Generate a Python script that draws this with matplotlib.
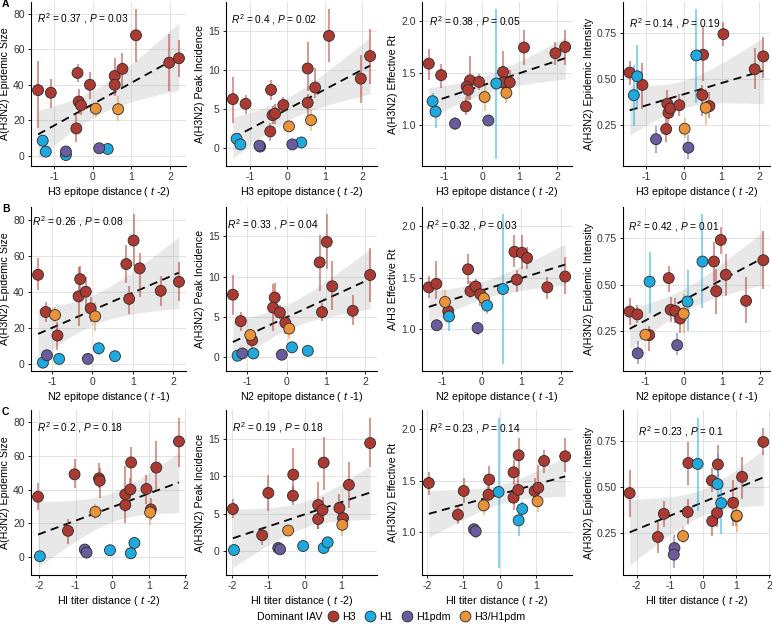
import numpy as np
import matplotlib
matplotlib.use("Agg")
import matplotlib.pyplot as plt
from matplotlib.ticker import MultipleLocator, FormatStrFormatter
from matplotlib.lines import Line2D

plt.rcParams['font.family'] = ['Liberation Sans', 'DejaVu Sans']
plt.rcParams['mathtext.fontset'] = 'custom'
plt.rcParams['mathtext.rm'] = 'Liberation Sans'
plt.rcParams['mathtext.it'] = 'Liberation Sans:italic'
plt.rcParams['axes.unicode_minus'] = False

# ordem dos pontos em cada painel: 13 H3, 2 H3/H1pdm, H1, 2 H1pdm
grupos4 = ['H3'] * 13 + ['H3/H1pdm'] * 2 + ['H1'] * 4 + ['H1pdm'] * 2
grupos3 = ['H3'] * 13 + ['H3/H1pdm'] * 2 + ['H1'] * 3 + ['H1pdm'] * 2

# ---- linha A: H3 epitope distance (t-2)
a1_x = [-1.41, -1.08, -0.39, -0.36, -0.30, -0.42, -0.07, 0.57, 0.57, 0.77, 1.12, 1.98, 2.23, 0.08, 0.66, -1.29, -1.21, -0.69, 0.39, -0.69, 0.17]
a1_y = [37, 35.5, 46.7, 30.5, 28.4, 15.3, 40, 45, 40, 49, 68, 52.5, 55, 26.5, 26.2, 8.4, 2.2, 0.3, 3.7, 2.3, 4.1]
a1_lo = [15.5, 27, 41.7, 23.4, 23.2, 7.9, 32, 35, 33.6, 39, 53, 36.4, 44.5, 22, 19.6, 5.6, 1, 0, 1.5, 1, 2]
a1_hi = [53.6, 43.5, 52, 37.8, 33.6, 23, 47.5, 55, 45, 58, 82.6, 68.8, 65.4, 30.5, 33.6, 10.8, 3.5, 1, 6, 3.8, 6]

a2_x = [-1.46, -1.12, -0.44, -0.40, -0.33, -0.46, -0.11, 0.54, 0.54, 0.74, 1.11, 1.96, 2.21, 0.04, 0.63, -1.36, -1.26, 0.37, -0.73, -0.75, 0.13]
a2_y = [6.26, 5.66, 7.45, 4.2, 4.4, 2.1, 5.5, 10.2, 5.8, 7.75, 14.4, 8.9, 11.8, 2.75, 3.55, 1.15, 0.43, 0.68, 0.15, 0.26, 0.43]
a2_lo = [3.2, 4.4, 6.2, 3.1, 3.0, 0.9, 4.6, 7.3, 3.9, 6.4, 11.1, 5.8, 8.2, 2.4, 2.1, 0.9, 0.3, 0.5, 0.1, 0.15, 0.3]
a2_hi = [9.15, 6.8, 8.7, 5.4, 5.6, 3.2, 6.5, 13.6, 6.9, 10.2, 17.8, 11.9, 15.3, 3.1, 5.0, 1.4, 0.6, 0.9, 0.2, 0.4, 0.6]

a3_x = [-1.42, -1.09, -0.32, -0.41, -0.37, -0.43, -0.08, 0.56, 0.56, 0.74, 1.12, 1.96, 2.22, 0.07, 0.65, -1.32, -1.24, 0.38, -0.72, 0.17]
a3_y = [1.59, 1.48, 1.43, 1.37, 1.34, 1.18, 1.415, 1.51, 1.41, 1.41, 1.745, 1.69, 1.75, 1.27, 1.31, 1.23, 1.13, 1.40, 1.015, 1.045]
a3_lo = [1.43, 1.36, 1.24, 1.27, 1.24, 1.10, 1.34, 1.35, 1.29, 1.31, 1.58, 1.58, 1.58, 1.14, 1.21, 1.13, 0.97, 0.68, 0.95, 1.0]
a3_hi = [1.73, 1.59, 1.66, 1.44, 1.43, 1.27, 1.49, 1.71, 1.51, 1.53, 1.91, 1.80, 1.91, 1.38, 1.37, 1.31, 1.24, 2.11, 1.08, 1.09]

a4_x = [-1.44, -1.10, -0.44, -0.41, -0.36, -0.47, -0.12, 0.51, 0.49, 0.68, 1.05, 1.88, 2.11, 0.02, 0.58, -1.33, -1.24, 0.33, -0.74, 0.12]
a4_y = [0.537, 0.47, 0.368, 0.318, 0.342, 0.23, 0.36, 0.634, 0.415, 0.355, 0.746, 0.555, 0.625, 0.232, 0.346, 0.414, 0.517, 0.63, 0.175, 0.129]
a4_lo = [0.47, 0.34, 0.30, 0.235, 0.29, 0.16, 0.30, 0.49, 0.30, 0.29, 0.68, 0.45, 0.51, 0.18, 0.25, 0.245, 0.35, 0.37, 0.10, 0.07]
a4_hi = [0.60, 0.59, 0.44, 0.38, 0.39, 0.31, 0.42, 0.79, 0.47, 0.43, 0.81, 0.67, 0.73, 0.29, 0.45, 0.58, 0.686, 0.88, 0.245, 0.20]

# ---- linha B: N2 epitope distance (t-1)
b1_x = [-1.34, -1.15, -0.86, -0.30, -0.34, -0.16, -0.04, 0.84, 1.02, 0.91, 1.17, 1.69, 2.14, -0.92, 0.07, -1.22, -0.82, 0.16, 0.56, -1.12, -0.11]
b1_y = [49.4, 28.7, 15.6, 47, 37.4, 40, 30.7, 55.4, 68.5, 36, 53, 40.5, 45.5, 27, 26.3, 0.5, 2.6, 8.5, 4.1, 4.6, 2.6]
b1_lo = [41, 23, 7.8, 37.8, 21, 32, 23.3, 44.8, 54.4, 27.6, 36.9, 31.9, 35, 23, 18.3, 0, 1, 4.8, 1.1, 1.7, 1]
b1_hi = [58.5, 34, 23, 54.4, 54, 48, 36.9, 66, 83, 43.3, 61.8, 48.9, 56.3, 31.3, 34.4, 1.5, 4, 12.2, 7.2, 7.2, 4]

b2_x = [-1.36, -1.16, -0.87, -0.30, -0.34, -0.17, -0.03, 0.84, 1.02, 0.90, 1.16, 1.68, 2.12, -0.92, 0.07, -1.24, -0.84, 0.14, 0.54, -1.12, -0.12]
b2_y = [7.76, 4.48, 2.12, 7.4, 6.16, 5.56, 4.28, 11.76, 14.3, 5.6, 8.8, 5.76, 10.2, 2.76, 3.56, 0.2, 0.48, 1.24, 0.8, 0.48, 0.32]
b2_lo = [5.3, 3.3, 1.1, 6.1, 3.3, 4.7, 2.9, 8.2, 10.9, 4.5, 5.9, 4.0, 6.9, 2.1, 2.3, 0.1, 0.3, 0.9, 0.6, 0.3, 0.2]
b2_hi = [10.2, 5.6, 2.9, 9.2, 9.1, 6.5, 5.4, 15.2, 17.7, 6.7, 11.9, 7.7, 13.6, 3.5, 4.9, 0.3, 0.7, 1.6, 1.0, 0.7, 0.45]

b3_x = [-1.33, -1.14, -0.84, -0.34, -0.28, -0.15, -0.03, 0.83, 1.02, 0.89, 1.15, 1.66, 2.11, -0.92, 0.06, -0.82, 0.14, 0.54, -1.13, -0.10]
b3_y = [1.406, 1.44, 1.176, 1.58, 1.37, 1.415, 1.34, 1.75, 1.74, 1.48, 1.69, 1.406, 1.51, 1.265, 1.30, 1.125, 1.23, 1.39, 1.04, 1.013]
b3_lo = [1.30, 1.29, 1.13, 1.44, 1.30, 1.35, 1.23, 1.60, 1.58, 1.36, 1.58, 1.29, 1.34, 1.17, 1.23, 0.98, 1.15, 0.67, 1.02, 0.95]
b3_hi = [1.52, 1.66, 1.27, 1.73, 1.47, 1.49, 1.46, 1.91, 1.91, 1.57, 1.80, 1.51, 1.70, 1.38, 1.36, 1.23, 1.30, 2.11, 1.08, 1.07]

b4_x = [-1.41, -1.21, -0.90, -0.39, -0.34, -0.22, -0.09, 0.79, 0.97, 0.85, 1.10, 1.63, 2.08, -1.00, 0.0, -0.89, 0.10, 0.49, -1.20, -0.17]
b4_y = [0.355, 0.34, 0.229, 0.535, 0.365, 0.358, 0.318, 0.624, 0.74, 0.465, 0.553, 0.413, 0.631, 0.231, 0.344, 0.516, 0.409, 0.624, 0.131, 0.175]
b4_lo = [0.285, 0.295, 0.144, 0.458, 0.30, 0.295, 0.24, 0.513, 0.667, 0.34, 0.44, 0.295, 0.476, 0.213, 0.24, 0.349, 0.25, 0.376, 0.076, 0.122]
b4_hi = [0.427, 0.39, 0.277, 0.598, 0.434, 0.43, 0.376, 0.73, 0.81, 0.585, 0.664, 0.54, 0.786, 0.258, 0.449, 0.676, 0.576, 0.877, 0.198, 0.24]

# ---- linha C: HI titer distance (t-2)
c1_x = [-2.03, -1.21, -1.03, -0.36, -0.34, 0.36, 0.36, 0.52, 0.50, 0.94, 1.06, 1.21, 1.83, -0.46, 1.04, -1.98, -0.06, 0.51, 0.61, -0.75, -0.70]
c1_y = [35.7, 15.5, 49, 46.6, 45.2, 30.8, 37.1, 56, 40, 40.3, 28.2, 53, 68.5, 26.8, 26.4, 0.4, 4.0, 2.2, 8.3, 4.4, 2.6]
c1_lo = [27.8, 7.9, 40.7, 40.7, 34.7, 20, 26.8, 40.7, 31.7, 31.7, 21.8, 39.7, 53.6, 22.8, 18.8, 0, 1.0, 0.5, 5, 2.6, 1]
c1_hi = [43.6, 22.8, 58, 55.6, 52.6, 34.7, 54, 65.5, 46.6, 48.6, 34.7, 68.5, 82.7, 31.2, 32.7, 1, 6.9, 3.5, 11.3, 6, 4]

c2_x = [-1.97, -1.17, -1.00, -0.32, -0.33, 0.36, 0.36, 0.51, 0.48, 0.94, 1.04, 1.20, 1.78, -0.46, 1.02, -1.94, -0.05, 0.51, 0.62, -0.73, -0.68]
c2_y = [5.63, 2.14, 7.77, 10.2, 7.4, 6.16, 4.29, 11.8, 5.5, 5.76, 4.42, 8.84, 14.4, 2.77, 3.53, 0.18, 0.71, 0.45, 1.2, 0.45, 0.27]
c2_lo = [4.4, 0.9, 5.3, 7.2, 6.1, 3.0, 3.0, 8.2, 4.1, 4.1, 3.4, 5.8, 11.2, 2.1, 2.1, 0.1, 0.5, 0.3, 0.9, 0.3, 0.15]
c2_hi = [6.9, 3.2, 10.2, 13.7, 8.75, 9.2, 5.2, 15.2, 7.2, 7.6, 5.8, 11.9, 17.8, 3.4, 4.5, 0.3, 0.9, 0.6, 1.5, 0.6, 0.4]

c3_x = [-1.95, -1.15, -0.99, -0.29, -0.31, 0.38, 0.38, 0.52, 0.51, 0.96, 1.06, 1.22, 1.80, -0.44, 1.04, -0.03, 0.52, 0.62, -0.71, -0.66]
c3_y = [1.477, 1.17, 1.40, 1.51, 1.364, 1.58, 1.335, 1.745, 1.41, 1.40, 1.43, 1.69, 1.735, 1.26, 1.30, 1.39, 1.116, 1.226, 1.03, 1.01]
c3_lo = [1.36, 1.08, 1.28, 1.40, 1.27, 1.46, 1.22, 1.54, 1.30, 1.28, 1.25, 1.57, 1.58, 1.17, 1.20, 0.66, 0.96, 1.14, 1.0, 0.95]
c3_hi = [1.58, 1.25, 1.53, 1.64, 1.46, 1.70, 1.43, 1.91, 1.54, 1.53, 1.65, 1.80, 1.91, 1.37, 1.38, 2.11, 1.25, 1.30, 1.06, 1.06]

c4_x = [-2.21, -1.36, -1.18, -0.44, -0.46, 0.27, 0.28, 0.45, 0.43, 0.91, 1.01, 1.18, 1.82, -0.60, 1.02, -0.16, 0.44, 0.55, -0.86, -0.88]
c4_y = [0.467, 0.23, 0.355, 0.63, 0.365, 0.535, 0.316, 0.622, 0.36, 0.415, 0.342, 0.555, 0.744, 0.235, 0.345, 0.625, 0.516, 0.413, 0.17, 0.135]
c4_lo = [0.34, 0.146, 0.282, 0.51, 0.30, 0.473, 0.237, 0.51, 0.282, 0.29, 0.29, 0.436, 0.674, 0.20, 0.255, 0.373, 0.355, 0.246, 0.101, 0.065]
c4_hi = [0.59, 0.31, 0.427, 0.745, 0.436, 0.604, 0.374, 0.73, 0.436, 0.536, 0.39, 0.664, 0.82, 0.29, 0.445, 0.876, 0.676, 0.527, 0.241, 0.18]

# R2 e P de cada painel (linha a linha)
r2_txt = [['0.37', '0.4', '0.38', '0.14'], ['0.26', '0.33', '0.32', '0.42'], ['0.2', '0.19', '0.23', '0.23']]
p_txt = [['0.03', '0.02', '0.05', '0.19'], ['0.08', '0.04', '0.03', '0.01'], ['0.18', '0.18', '0.14', '0.1']]

xlabels = [r'H3 epitope distance ( $\it{t}$ -2)', r'N2 epitope distance ( $\it{t}$ -1)', r'HI titer distance ( $\it{t}$ -2)']
ylabels = [['A(H3N2) Epidemic Size', 'A(H3N2) Peak Incidence', 'A(H3N2) Effective Rt', 'A(H3N2) Epidemic Intensity'],
           ['A(H3N2) Epidemic Size', 'A(H3N2) Peak Incidence', 'A/H3 Effective Rt', 'A(H3N2) Epidemic Intensity'],
           ['A(H3N2) Epidemic Size', 'A(H3N2) Peak Incidence', 'A(H3N2) Effective Rt', 'A(H3N2) Epidemic Intensity']]

paineis = [[(a1_x, a1_y, a1_lo, a1_hi, grupos4), (a2_x, a2_y, a2_lo, a2_hi, grupos4),
            (a3_x, a3_y, a3_lo, a3_hi, grupos3), (a4_x, a4_y, a4_lo, a4_hi, grupos3)],
           [(b1_x, b1_y, b1_lo, b1_hi, grupos4), (b2_x, b2_y, b2_lo, b2_hi, grupos4),
            (b3_x, b3_y, b3_lo, b3_hi, grupos3), (b4_x, b4_y, b4_lo, b4_hi, grupos3)],
           [(c1_x, c1_y, c1_lo, c1_hi, grupos4), (c2_x, c2_y, c2_lo, c2_hi, grupos4),
            (c3_x, c3_y, c3_lo, c3_hi, grupos3), (c4_x, c4_y, c4_lo, c4_hi, grupos3)]]

cores = {'H3': '#ab3a33', 'H1': '#1eaadf', 'H1pdm': '#6a5c9c', 'H3/H1pdm': '#e8923a'}
passo_y = [20, 5, 0.5, 0.25]
formato_y = ['%d', '%d', '%.1f', '%.2f']

# caixas dos eixos em pixels (esquerda, direita) e (topo, base)
W, H = 772, 625
colunas = [(31, 186), (226, 377), (422, 572), (623, 770)]
linhas = [(2, 166), (207, 371), (410, 575)]
pos_txt = [[(37, 19), (231, 20), (429, 22), (629, 24)],
           [(32, 222), (227, 225), (426, 226), (628, 227)],
           [(37, 428), (232, 428), (429, 429), (638, 432)]]

fig = plt.figure(figsize=(W / 100, H / 100), dpi=100)

for i in range(3):
    for j in range(4):
        x, y, lo, hi, grp = [np.array(v) for v in paineis[i][j]]
        l, r = colunas[j]
        t, b = linhas[i]
        ax = fig.add_axes([l / W, 1 - b / H, (r - l) / W, (b - t) / H])

        # regressao linear com banda de 95%
        n = len(x)
        coef = np.polyfit(x, y, 1)
        xs = np.linspace(x.min(), x.max(), 80)
        ys = np.polyval(coef, xs)
        res = y - np.polyval(coef, x)
        s = np.sqrt(np.sum(res ** 2) / (n - 2))
        se = s * np.sqrt(1 / n + (xs - x.mean()) ** 2 / np.sum((x - x.mean()) ** 2))
        ax.fill_between(xs, ys - 2.09 * se, ys + 2.09 * se, color='0.55', alpha=0.2, lw=0, zorder=1)
        ax.plot(xs, ys, color='black', lw=1.3, dashes=(4.5, 3), zorder=2)

        cor = [cores[g] for g in grp]
        ax.vlines(x, lo, hi, colors=cor, alpha=0.5, lw=1.5, zorder=3)
        ax.scatter(x, y, s=62, c=cor, edgecolors='#2b2b2b', linewidths=0.6, zorder=4)

        ax.xaxis.set_major_locator(MultipleLocator(1))
        ax.yaxis.set_major_locator(MultipleLocator(passo_y[j]))
        ax.yaxis.set_major_formatter(FormatStrFormatter(formato_y[j]))
        ax.grid(True, color='#e3e3e3', lw=0.7)
        ax.set_axisbelow(True)
        for lado in ['top', 'right']:
            ax.spines[lado].set_visible(False)
        for lado in ['left', 'bottom']:
            ax.spines[lado].set_linewidth(0.8)
        ax.tick_params(labelsize=7.5, length=2.5, width=0.6, pad=2, labelcolor='#333333')
        ax.set_xlabel(xlabels[i], fontsize=7.7, labelpad=2)
        ax.set_ylabel(ylabels[i][j], fontsize=7.7, labelpad=2)

        px, py = pos_txt[i][j]
        fig.text(px / W, 1 - py / H, r'$\it{R}^2$ = ' + r2_txt[i][j] + r' , $\it{P}$ = ' + p_txt[i][j],
                 fontsize=7.3, ha='left', va='center')

for letra, py in zip(['A', 'B', 'C'], [4, 209, 412]):
    fig.text(2 / W, 1 - py / H, letra, fontsize=7.5, fontweight='bold', ha='left', va='center')

# legenda
nomes = ['H3', 'H1', 'H1pdm', 'H3/H1pdm']
alcas = [Line2D([], [], ls='none', marker='o', markersize=7.8, markerfacecolor=cores[k],
                markeredgecolor='#2b2b2b', markeredgewidth=0.6) for k in nomes]
fig.text(257 / W, 1 - 617 / H, 'Dominant IAV', fontsize=7.7, ha='left', va='center')
fig.legend(alcas, nomes, ncol=4, loc='center left', bbox_to_anchor=(325 / W, 1 - 617 / H),
           frameon=False, fontsize=7.7, handletextpad=0.1, columnspacing=0.6, handlelength=1.5,
           borderaxespad=0, borderpad=0)

fig.savefig('out.png', dpi=100)
